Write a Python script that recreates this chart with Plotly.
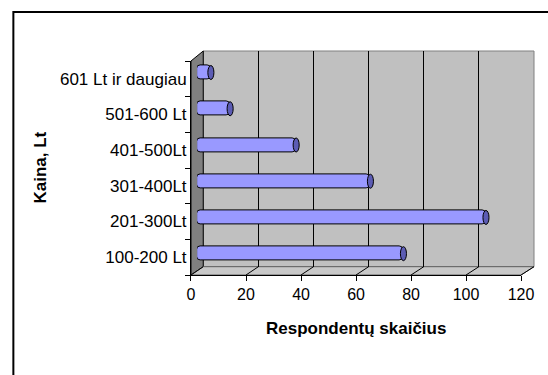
import plotly.graph_objects as go

# Survey results: how many respondents named each price range
categories = ["100-200 Lt", "201-300Lt", "301-400Lt", "401-500Lt", "501-600 Lt", "601 Lt ir daugiau"]
respondents = [75, 105, 63, 36, 12, 5]
x_ticks = [0, 20, 40, 60, 80, 100, 120]

W, H = 548, 375
GRID_W = 533           # horizontal drawing grid (px) that spans the paper width
FONT = "Arial, Liberation Sans, sans-serif"


def fx(px):
    return px / GRID_W


def fy(py):
    return 1 - py / H


# Pixel boxes of the pseudo-3D frame: front plane, back wall, and the bar plane in between
FRONT = dict(x0=187.7, x1=519.0, y0=61.0, y1=275.0)
BACK = dict(x0=200.0, x1=532.0, y0=51.0, y1=266.7)
MID = dict(x0=193.85, x1=525.2, y0=54.4, y1=271.8)

XMAX = 120
BAR_W = 0.386          # bar thickness in category units
CAP_RX = 1.1           # half-width of the end cap ellipse in value units

fig = go.Figure()

# invisible traces that anchor the front axes and the back-wall axes
fig.add_trace(go.Scatter(x=respondents, y=categories, mode="markers",
                         marker=dict(size=1, opacity=0), hoverinfo="skip",
                         showlegend=False, xaxis="x", yaxis="y"))
fig.add_trace(go.Scatter(x=[0, XMAX], y=[0, 1], mode="markers",
                         marker=dict(size=1, opacity=0), hoverinfo="skip",
                         showlegend=False, xaxis="x2", yaxis="y2"))

# cylinder bodies: drawn from the value back to zero so the rounded end sits at zero
fig.add_trace(go.Bar(
    y=categories, x=[-v for v in respondents], base=respondents,
    orientation="h", width=BAR_W,
    marker=dict(color="#9999ff", line=dict(color="#000000", width=1), cornerradius=4),
    hoverinfo="skip", showlegend=False, xaxis="x3", yaxis="y3",
))

shapes = []

# back wall
shapes.append(dict(type="rect", xref="paper", yref="paper", layer="below",
                   x0=fx(BACK["x0"]), x1=fx(BACK["x1"]), y0=fy(BACK["y1"]), y1=fy(BACK["y0"]),
                   fillcolor="#c0c0c0", line=dict(color="#808080", width=1)))
# left side wall
side = "M {} {} L {} {} L {} {} L {} {} Z".format(
    fx(FRONT["x0"]), fy(FRONT["y0"]), fx(BACK["x0"]), fy(BACK["y0"]),
    fx(BACK["x0"]), fy(BACK["y1"]), fx(FRONT["x0"]), fy(FRONT["y1"]))
shapes.append(dict(type="path", xref="paper", yref="paper", layer="below", path=side,
                   fillcolor="#808080", line=dict(color="#000000", width=1)))
# floor
floor = "M {} {} L {} {} L {} {} L {} {} Z".format(
    fx(FRONT["x0"]), fy(FRONT["y1"]), fx(BACK["x0"]), fy(BACK["y1"]),
    fx(BACK["x1"]), fy(BACK["y1"]), fx(FRONT["x1"]), fy(FRONT["y1"]))
shapes.append(dict(type="path", xref="paper", yref="paper", layer="below", path=floor,
                   fillcolor="#c8c8c8", line=dict(color="#606060", width=1)))
# floor grid: diagonals joining each front tick to the back wall
for t in x_ticks:
    xf = FRONT["x0"] + (FRONT["x1"] - FRONT["x0"]) * t / XMAX
    xb = BACK["x0"] + (BACK["x1"] - BACK["x0"]) * t / XMAX
    shapes.append(dict(type="line", xref="paper", yref="paper", layer="below",
                       x0=fx(xf), y0=fy(FRONT["y1"]), x1=fx(xb), y1=fy(BACK["y1"]),
                       line=dict(color="#000000", width=1)))

# end caps of the cylinders
for i, v in enumerate(respondents):
    shapes.append(dict(type="circle", xref="x3", yref="y3", layer="above",
                       x0=v - CAP_RX, x1=v + CAP_RX, y0=i - BAR_W / 2, y1=i + BAR_W / 2,
                       fillcolor="#5c5cb4", line=dict(color="#000000", width=1)))

# chart area border (runs off the right and bottom edges of the page)
shapes.append(dict(type="rect", xref="paper", yref="paper", layer="above",
                   x0=fx(9.4), x1=1.2, y0=-0.2, y1=fy(12),
                   fillcolor="rgba(0,0,0,0)", line=dict(color="#000000", width=2)))

fig.update_layout(
    width=W, height=H,
    margin=dict(l=0, r=0, t=0, b=0),
    paper_bgcolor="#ffffff", plot_bgcolor="rgba(0,0,0,0)",
    font=dict(family=FONT, size=17, color="#000000"),
    showlegend=False,
    bargap=0,
    shapes=shapes,
    xaxis=dict(domain=[fx(FRONT["x0"]), fx(FRONT["x1"])], range=[0, XMAX],
               tickmode="array", tickvals=x_ticks, ticktext=[str(t) for t in x_ticks],
               ticks="outside", ticklen=5, tickcolor="#000000", tickwidth=1,
               showline=True, linecolor="#000000", linewidth=1,
               showgrid=False, zeroline=False, anchor="y",
               tickfont=dict(family=FONT, size=16)),
    yaxis=dict(domain=[fy(FRONT["y1"]), fy(FRONT["y0"])], type="category",
               categoryorder="array", categoryarray=categories, range=[-0.5, 5.5],
               tickson="boundaries", ticks="outside", ticklen=5, tickcolor="#000000",
               showline=True, linecolor="#000000", linewidth=1,
               showgrid=False, zeroline=False, anchor="x",
               tickfont=dict(family=FONT, size=17)),
    xaxis2=dict(domain=[fx(BACK["x0"]), fx(BACK["x1"])], range=[0, XMAX],
                tickmode="array", tickvals=x_ticks, showticklabels=False, ticks="",
                showgrid=True, gridcolor="#000000", gridwidth=1,
                showline=False, zeroline=False, anchor="y2"),
    yaxis2=dict(domain=[fy(BACK["y1"]), fy(BACK["y0"])], range=[0, 1],
                showticklabels=False, showgrid=False, zeroline=False,
                showline=False, ticks="", anchor="x2"),
    xaxis3=dict(domain=[fx(MID["x0"]), fx(MID["x1"])], range=[0, XMAX],
                visible=False, anchor="y3"),
    yaxis3=dict(domain=[fy(MID["y1"]), fy(MID["y0"])], type="category",
                categoryorder="array", categoryarray=categories, range=[-0.5, 5.5],
                visible=False, anchor="x3"),
    annotations=[
        dict(text="<b>Respondentų skaičius</b>", xref="paper", yref="paper",
             x=fx((FRONT["x0"] + FRONT["x1"]) / 2), y=fy(328),
             xanchor="center", yanchor="middle", showarrow=False,
             font=dict(family=FONT, size=17)),
        dict(text="<b>Kaina, Lt</b>", xref="paper", yref="paper",
             x=fx(36.7), y=fy(168), textangle=-90,
             xanchor="center", yanchor="middle", showarrow=False,
             font=dict(family=FONT, size=17)),
    ],
)

fig.write_html("out.html")
